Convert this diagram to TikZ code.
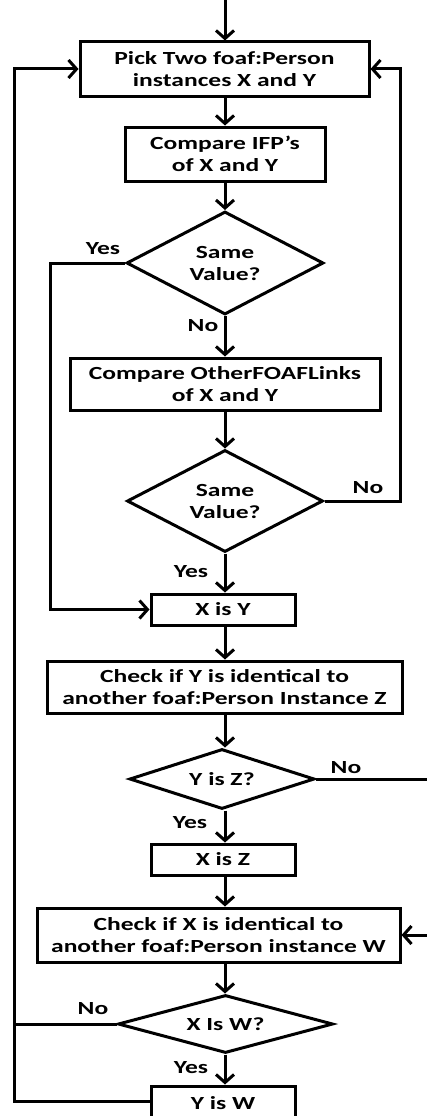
\documentclass[tikz,border=0pt]{standalone}
\usepackage{fontspec}
\setmainfont{Carlito}[FakeStretch=1.38]
\usetikzlibrary{arrows.meta,shapes.geometric}
\begin{document}
\begin{tikzpicture}[x=1pt,y=-1pt,
  font=\bfseries\fontsize{18.5}{22}\selectfont,
  line width=3pt,
  flow/.style={-{Straight Barb[length=8pt,width=18pt]}},
  box/.style={draw, rectangle, inner sep=0pt, align=center},
  dec/.style={draw, diamond, aspect=2, inner sep=0pt, align=center},
  lbl/.style={inner sep=0pt}
]
\useasboundingbox (0,0) rectangle (427,1116);

% nodes
\node[box, minimum width=289pt, minimum height=54pt] (b1) at (224.5,69) {Pick Two foaf:Person\\instances X and Y};
\node[box, minimum width=200pt, minimum height=54pt] (b2) at (225,154) {Compare IFP’s\\of X and Y};
\node[dec, minimum width=197pt, minimum height=103pt] (d1) at (225,263) {Same\\Value?};
\node[box, minimum width=310pt, minimum height=52pt] (b3) at (225,384) {Compare OtherFOAFLinks\\of X and Y};
\node[dec, minimum width=196pt, minimum height=102pt] (d2) at (225,501) {Same\\Value?};
\node[box, minimum width=144pt, minimum height=31pt] (b4) at (223,609.5) {X is Y};
\node[box, minimum width=355pt, minimum height=52pt] (b5) at (224.5,687) {Check if Y is identical to\\another foaf:Person Instance Z};
\node[dec, minimum width=185pt, minimum height=60pt] (d3) at (222,779) {Y is Z?};
\node[box, minimum width=144pt, minimum height=31pt] (b6) at (223,859.5) {X is Z};
\node[box, minimum width=363pt, minimum height=54pt] (b7) at (218.5,935) {Check if X is identical to\\another foaf:Person instance W};
\node[dec, minimum width=215pt, minimum height=58pt] (d4) at (225.5,1024) {X Is W?};
\node[box, minimum width=144pt, minimum height=34pt] (b8) at (223,1103) {Y is W};

% labels
\node[lbl] (l1) at (103,249) {Yes};
\node[lbl] (l2) at (203,326) {No};
\node[lbl] (l3) at (368,488) {No};
\node[lbl] (l4) at (191,572) {Yes};
\node[lbl] (l5) at (346,768) {No};
\node[lbl] (l6) at (190,823) {Yes};
\node[lbl] (l7) at (93,1009) {No};
\node[lbl] (l8) at (191,1068) {Yes};

% free coordinates
\coordinate (top) at (225,0);
\coordinate (cL) at (14,0);
\coordinate (cR) at (400,0);
\coordinate (cY) at (50,0);
\coordinate (eZ) at (428,779);
\coordinate (eW) at (428,935);

% main flow
\draw[flow] (top) -- (top |- b1.north);
\draw[flow] (225,0 |- b1.south) -- (225,0 |- b2.north);
\draw[flow] (b2.south) -- (d1.north);
\draw[flow] (d1.south) -- (d1.south |- b3.north);
\draw[flow] (d1.south |- b3.south) -- (d2.north);
\draw[flow] (d2.south) -- (d2.south |- b4.north);
\draw[flow] (d2.south |- b4.south) -- (d2.south |- b5.north);
\draw[flow] (d2.south |- b5.south) -- (d3.north -| d2.south);
\draw[flow] (d2.south |- d3.south) -- (d2.south |- b6.north);
\draw[flow] (d2.south |- b6.south) -- (d2.south |- b7.north);
\draw[flow] (d2.south |- b7.south) -- (d2.south |- d4.north);
\draw[flow] (d2.south |- d4.south) -- (d2.south |- b8.north);

% side branches
\draw[flow] (d1.west) -- (cY |- d1.west) -- (cY |- b4.west) -- (b4.west);
\draw[flow] (d2.east) -- (cR |- d2.east) -- (cR |- b1.east) -- (b1.east);
\draw (d3.east) -- (eZ);
\draw[flow] (eW) -- (b7.east);
\draw (d4.west) -- (cL |- d4.west);
\draw[flow] (b8.west |- 0,1101) -- (cL |- 0,1101) -- (cL |- b1.east) -- (b1.west |- b1.east);
\end{tikzpicture}
\end{document}
